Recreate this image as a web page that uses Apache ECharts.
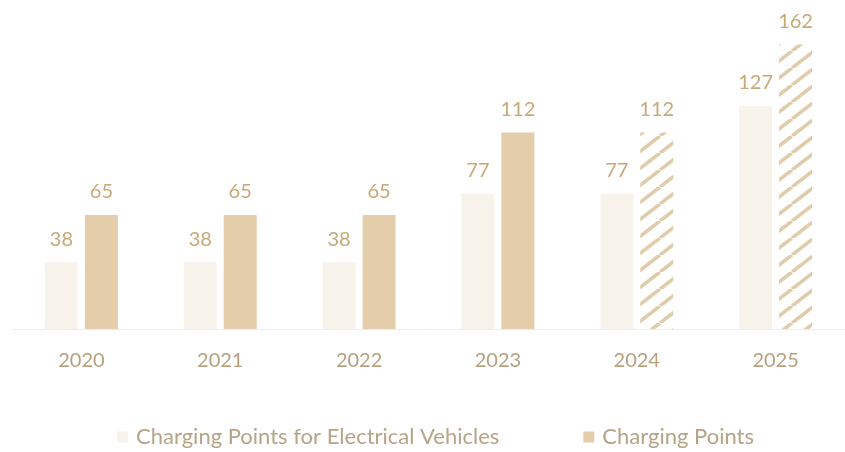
<!DOCTYPE html>
<html>
<head>
<meta charset="utf-8">
<script src="https://cdn.jsdelivr.net/npm/echarts@6/dist/echarts.min.js"></script>
<style>
  html, body { margin: 0; padding: 0; background: #ffffff; }
  #chart { width: 845px; height: 452px; }
</style>
</head>
<body>
<div id="chart"></div>
<script>
// Chart data
const years = ['2020', '2021', '2022', '2023', '2024', '2025'];
const evChargingPoints = [38, 38, 38, 77, 77, 127];
const chargingPoints = [65, 65, 65, 112, 112, 162];
const projectedYears = ['2024', '2025'];
const seriesNames = ['Charging Points for Electrical Vehicles', 'Charging Points'];

const FONT = 'Lato, "Open Sans", sans-serif';
const LIGHT = '#f8f3ea';
const TAN = '#e4cdab';
const LABEL = '#c9a878';
const AXIS_TEXT = '#b8a07f';
const LEGEND_TEXT = '#b7a386';

// Diagonal stripe pattern for projected values
function stripePattern() {
  const w = 22, h = 17;
  const c = document.createElement('canvas');
  c.width = w; c.height = h;
  const ctx = c.getContext('2d');
  ctx.fillStyle = '#ffffff';
  ctx.fillRect(0, 0, w, h);
  ctx.strokeStyle = '#e0ccab';
  ctx.lineWidth = 3.6;
  for (let k = -1; k <= 1; k++) {
    ctx.beginPath();
    ctx.moveTo(k * w, h);
    ctx.lineTo(k * w + w, 0);
    ctx.stroke();
  }
  return { image: c, repeat: 'repeat' };
}
const hatch = stripePattern();

const chart = echarts.init(document.getElementById('chart'), null, { renderer: 'canvas' });

chart.setOption({
  animation: false,
  grid: { left: 12, right: -3, top: 13, bottom: 123, containLabel: false },
  xAxis: {
    type: 'category',
    data: years,
    axisLine: { show: true, lineStyle: { color: '#f1ece5', width: 1 } },
    axisTick: { show: false },
    axisLabel: { color: AXIS_TEXT, fontSize: 20, fontFamily: FONT, margin: 22 }
  },
  yAxis: {
    type: 'value',
    min: 0,
    max: 180,
    show: false,
    splitLine: { show: false }
  },
  legend: {
    top: 421,
    left: 112,
    itemWidth: 11,
    itemHeight: 11,
    itemGap: 84,
    icon: 'rect',
    textStyle: { color: LEGEND_TEXT, fontSize: 22, fontFamily: FONT, padding: [0, 0, 0, 3] },
    data: seriesNames
  },
  series: [
    {
      name: seriesNames[0],
      type: 'bar',
      barWidth: 33,
      barGap: '21%',
      itemStyle: { color: LIGHT },
      label: {
        show: true, position: 'top', distance: 13,
        color: LABEL, fontSize: 20, fontFamily: FONT
      },
      data: evChargingPoints
    },
    {
      name: seriesNames[1],
      type: 'bar',
      barWidth: 33,
      itemStyle: { color: TAN },
      label: {
        show: true, position: 'top', distance: 13,
        color: LABEL, fontSize: 20, fontFamily: FONT
      },
      data: chargingPoints.map((v, i) =>
        projectedYears.includes(years[i])
          ? { value: v, itemStyle: { color: hatch } }
          : v)
    }
  ]
});
</script>
</body>
</html>
